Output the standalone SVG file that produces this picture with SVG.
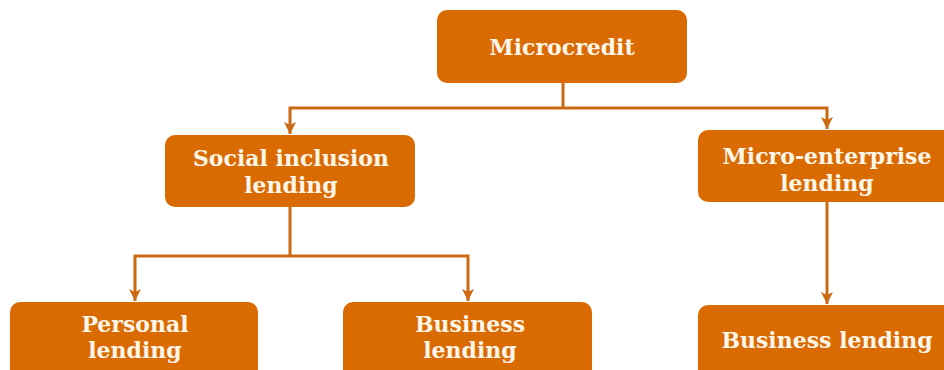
<svg xmlns="http://www.w3.org/2000/svg" width="944" height="370" viewBox="0 0 944 370">
<style>
.box{fill:#D96B02;}
.t{font-family:"DejaVu Serif","Liberation Serif",serif;font-weight:bold;font-size:22px;fill:#FFF6EA;text-anchor:middle;}
.c{fill:none;stroke:#CC6A12;stroke-width:3;}
</style>
<defs>
<marker id="ah" markerWidth="14" markerHeight="14" refX="12" refY="7" orient="auto" markerUnits="userSpaceOnUse">
<path d="M0,1 L12,7 L0,13 L3,7 Z" fill="#CC6A12"/>
</marker>
</defs>
<rect width="944" height="370" fill="#FFFFFF"/>
<g id="connectors">
<path class="c" d="M563,83 V108"/>
<path class="c" d="M563,108 H290 V134" marker-end="url(#ah)"/>
<path class="c" d="M563,108 H827 V129" marker-end="url(#ah)"/>
<path class="c" d="M290,207 V256"/>
<path class="c" d="M290,256 H135 V301" marker-end="url(#ah)"/>
<path class="c" d="M290,256 H468 V301" marker-end="url(#ah)"/>
<path class="c" d="M827,202 V304" marker-end="url(#ah)"/>
</g>
<g id="microcredit">
<rect class="box" x="437" y="10" width="250" height="73" rx="10"/>
<text class="t" x="562" y="55">Microcredit</text>
</g>
<g id="social-inclusion">
<rect class="box" x="165" y="135" width="250" height="72" rx="10"/>
<text class="t" x="291" y="166">Social inclusion</text>
<text class="t" x="291" y="193">lending</text>
</g>
<g id="micro-enterprise">
<rect class="box" x="698" y="130" width="256" height="72" rx="10"/>
<text class="t" x="827" y="164">Micro-enterprise</text>
<text class="t" x="827" y="191">lending</text>
</g>
<g id="personal-lending">
<rect class="box" x="10" y="302" width="248" height="80" rx="10"/>
<text class="t" x="135" y="332">Personal</text>
<text class="t" x="135" y="358">lending</text>
</g>
<g id="business-lending-1">
<rect class="box" x="343" y="302" width="249" height="80" rx="10"/>
<text class="t" x="470" y="332">Business</text>
<text class="t" x="470" y="358">lending</text>
</g>
<g id="business-lending-2">
<rect class="box" x="698" y="305" width="256" height="80" rx="10"/>
<text class="t" x="827" y="348">Business lending</text>
</g>
</svg>
